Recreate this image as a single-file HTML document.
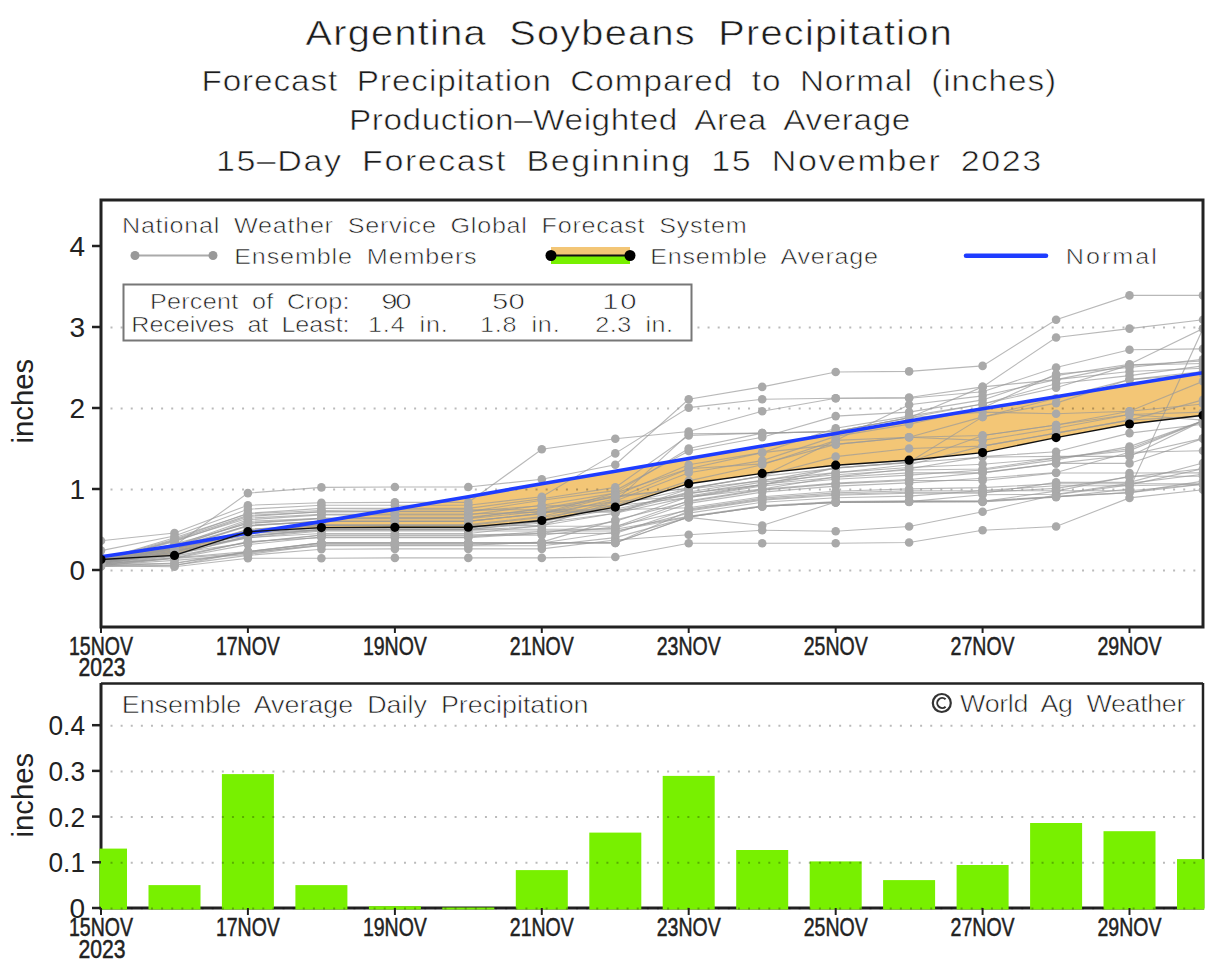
<!DOCTYPE html><html><head><meta charset="utf-8"><style>html,body{margin:0;padding:0;background:#fff;}svg{display:block;}text{font-family:"Liberation Sans",sans-serif;}</style></head><body>
<svg width="1226" height="967" viewBox="0 0 1226 967">
<rect width="1226" height="967" fill="#fff"/>
<text transform="scale(1.12,1)" x="272.77" y="45" font-size="35.5" fill="#1c1c1c" stroke="#fff" stroke-width="0.6" word-spacing="8.9" textLength="577.14" lengthAdjust="spacing">Argentina Soybeans Precipitation</text>
<text transform="scale(1.12,1)" x="179.82" y="91" font-size="29.8" fill="#1c1c1c" stroke="#fff" stroke-width="0.6" word-spacing="7.5" textLength="763.12" lengthAdjust="spacing">Forecast Precipitation Compared to Normal (inches)</text>
<text transform="scale(1.12,1)" x="311.61" y="130" font-size="29.8" fill="#1c1c1c" stroke="#fff" stroke-width="0.6" word-spacing="7.5" textLength="501.16" lengthAdjust="spacing">Production–Weighted Area Average</text>
<text transform="scale(1.12,1)" x="192.77" y="171.5" font-size="30.4" fill="#1c1c1c" stroke="#fff" stroke-width="0.6" word-spacing="7.6" textLength="736.87" lengthAdjust="spacing">15–Day Forecast Beginning 15 November 2023</text>
<polygon points="101.0,556.8 174.5,545.7 247.9,533.1 321.4,521.6 394.9,509.2 468.3,496.7 541.8,483.7 615.3,471.2 688.7,458.6 762.2,446.1 835.7,433.5 909.1,421.0 982.6,408.8 1056.1,396.7 1129.5,384.5 1203.0,372.8 1203.0,415.3 1129.5,424.0 1056.1,437.6 982.6,452.6 909.1,460.2 835.7,465.2 762.2,473.4 688.7,483.7 615.3,507.1 541.8,520.5 468.3,527.2 394.9,527.3 321.4,527.6 247.9,531.7 174.5,555.4 101.0,559.5" fill="#F3C676"/>
<line x1="110.5" y1="570.5" x2="1197" y2="570.5" stroke="#000" stroke-opacity="0.27" stroke-width="2" stroke-dasharray="2 8.12"/>
<line x1="110.5" y1="489.5" x2="1197" y2="489.5" stroke="#000" stroke-opacity="0.27" stroke-width="2" stroke-dasharray="2 8.12"/>
<line x1="110.5" y1="408.5" x2="1197" y2="408.5" stroke="#000" stroke-opacity="0.27" stroke-width="2" stroke-dasharray="2 8.12"/>
<line x1="110.5" y1="327.5" x2="1197" y2="327.5" stroke="#000" stroke-opacity="0.27" stroke-width="2" stroke-dasharray="2 8.12"/>
<defs><clipPath id="pc"><rect x="101" y="200" width="1102" height="427"/></clipPath></defs>
<g clip-path="url(#pc)">
<g fill="none" stroke="#9a9a9a" stroke-width="1.1" stroke-opacity="0.7">
<polyline points="101.0,557.9 174.5,545.7 247.9,493.1 321.4,487.4 394.9,487.0 468.3,487.0 541.8,479.3 615.3,464.7 688.7,399.3 762.2,386.9 835.7,372.0 909.1,371.4 982.6,365.9 1056.1,319.7 1129.5,295.4 1203.0,295.4"/>
<polyline points="101.0,540.8 174.5,533.0 247.9,505.2 321.4,502.8 394.9,502.4 468.3,502.4 541.8,449.3 615.3,438.8 688.7,431.5 762.2,411.2 835.7,398.3 909.1,397.5 982.6,386.9 1056.1,337.5 1129.5,328.6 1203.0,319.7"/>
<polyline points="101.0,550.6 174.5,536.0 247.9,509.2 321.4,505.2 394.9,505.2 468.3,505.2 541.8,496.7 615.3,453.4 688.7,407.6 762.2,399.3 835.7,398.3 909.1,398.3 982.6,391.8 1056.1,367.5 1129.5,349.7 1203.0,348.9"/>
<polyline points="101.0,559.5 174.5,539.2 247.9,513.3 321.4,508.4 394.9,508.4 468.3,508.4 541.8,498.7 615.3,487.4 688.7,435.5 762.2,433.1 835.7,431.5 909.1,417.7 982.6,404.0 1056.1,387.8 1129.5,365.1 1203.0,361.0"/>
<polyline points="101.0,560.3 174.5,541.6 247.9,516.5 321.4,511.7 394.9,511.7 468.3,511.7 541.8,500.3 615.3,490.6 688.7,450.9 762.2,437.2 835.7,416.1 909.1,412.1 982.6,399.9 1056.1,375.6 1129.5,364.3 1203.0,328.6"/>
<polyline points="101.0,561.1 174.5,545.7 247.9,519.8 321.4,514.9 394.9,514.9 468.3,514.9 541.8,505.2 615.3,493.1 688.7,468.8 762.2,463.9 835.7,444.4 909.1,437.2 982.6,416.9 1056.1,403.1 1129.5,379.6 1203.0,374.0"/>
<polyline points="101.0,561.9 174.5,547.3 247.9,521.4 321.4,518.2 394.9,517.4 468.3,517.4 541.8,509.2 615.3,497.1 688.7,488.2 762.2,476.0 835.7,440.4 909.1,404.8 982.6,395.9 1056.1,379.6 1129.5,371.5 1203.0,368.3"/>
<polyline points="101.0,562.7 174.5,548.9 247.9,525.5 321.4,521.4 394.9,521.4 468.3,521.4 541.8,513.3 615.3,501.1 688.7,433.9 762.2,433.1 835.7,431.5 909.1,417.7 982.6,412.1 1056.1,413.7 1129.5,411.2 1203.0,381.3"/>
<polyline points="101.0,562.7 174.5,552.2 247.9,529.5 321.4,525.5 394.9,525.5 468.3,525.5 541.8,517.4 615.3,505.2 688.7,489.0 762.2,480.9 835.7,467.9 909.1,462.3 982.6,435.5 1056.1,425.0 1129.5,414.5 1203.0,420.1"/>
<polyline points="101.0,563.5 174.5,553.8 247.9,533.5 321.4,527.9 394.9,527.9 468.3,527.9 541.8,521.4 615.3,509.2 688.7,493.1 762.2,484.9 835.7,472.8 909.1,464.7 982.6,446.1 1056.1,433.1 1129.5,420.1 1203.0,399.9"/>
<polyline points="101.0,563.5 174.5,555.4 247.9,536.0 321.4,529.5 394.9,529.5 468.3,529.5 541.8,523.0 615.3,513.3 688.7,497.1 762.2,489.0 835.7,476.9 909.1,468.8 982.6,456.6 1056.1,451.7 1129.5,433.1 1203.0,424.2"/>
<polyline points="101.0,566.0 174.5,566.8 247.9,558.2 321.4,558.2 394.9,557.9 468.3,557.9 541.8,557.9 615.3,557.0 688.7,543.3 762.2,543.3 835.7,543.3 909.1,542.5 982.6,530.3 1056.1,526.5 1129.5,497.9 1203.0,489.8"/>
<polyline points="101.0,565.1 174.5,565.1 247.9,555.4 321.4,549.3 394.9,548.9 468.3,548.9 541.8,548.9 615.3,540.0 688.7,534.8 762.2,530.3 835.7,531.2 909.1,526.5 982.6,511.7 1056.1,494.7 1129.5,484.9 1203.0,468.8"/>
<polyline points="101.0,564.3 174.5,563.5 247.9,552.2 321.4,545.7 394.9,545.7 468.3,545.7 541.8,545.7 615.3,537.6 688.7,517.4 762.2,525.5 835.7,502.0 909.1,502.0 982.6,502.0 1056.1,497.1 1129.5,489.0 1203.0,328.6"/>
<polyline points="101.0,561.9 174.5,549.8 247.9,529.5 321.4,524.6 394.9,524.6 468.3,524.6 541.8,516.5 615.3,498.7 688.7,468.8 762.2,452.6 835.7,444.4 909.1,437.2 982.6,435.5 1056.1,425.0 1129.5,411.2 1203.0,404.0"/>
<polyline points="101.0,562.7 174.5,552.2 247.9,533.5 321.4,529.5 394.9,529.5 468.3,529.5 541.8,521.4 615.3,505.2 688.7,480.9 762.2,464.7 835.7,440.4 909.1,437.2 982.6,440.4 1056.1,428.2 1129.5,414.5 1203.0,412.1"/>
<polyline points="101.0,563.5 174.5,553.8 247.9,537.6 321.4,533.5 394.9,533.5 468.3,533.5 541.8,525.5 615.3,513.3 688.7,489.0 762.2,476.0 835.7,456.6 909.1,448.5 982.6,446.1 1056.1,433.1 1129.5,420.1 1203.0,416.1"/>
<polyline points="101.0,561.1 174.5,547.3 247.9,525.5 321.4,521.4 394.9,521.4 468.3,521.4 541.8,513.3 615.3,493.1 688.7,448.5 762.2,433.1 835.7,431.5 909.1,417.7 982.6,386.9 1056.1,379.6 1129.5,365.1 1203.0,363.5"/>
<polyline points="101.0,564.3 174.5,557.9 247.9,541.6 321.4,537.6 394.9,537.6 468.3,537.6 541.8,533.5 615.3,521.4 688.7,497.1 762.2,484.9 835.7,467.9 909.1,462.3 982.6,416.9 1056.1,398.3 1129.5,379.6 1203.0,371.5"/>
<polyline points="101.0,560.3 174.5,545.7 247.9,523.0 321.4,518.2 394.9,518.2 468.3,518.2 541.8,508.4 615.3,495.5 688.7,464.7 762.2,452.6 835.7,428.2 909.1,416.1 982.6,404.0 1056.1,383.7 1129.5,375.6 1203.0,365.9"/>
<polyline points="101.0,562.7 174.5,550.6 247.9,531.1 321.4,527.9 394.9,527.9 468.3,527.9 541.8,519.8 615.3,501.1 688.7,472.8 762.2,460.6 835.7,436.4 909.1,424.2 982.6,408.0 1056.1,374.0 1129.5,367.5 1203.0,359.4"/>
<polyline points="101.0,566.5 174.5,565.5 247.9,551.6 321.4,542.9 394.9,542.9 468.3,542.9 541.8,542.9 615.3,542.9 688.7,511.0 762.2,500.1 835.7,495.2 909.1,493.3 982.6,493.3 1056.1,482.4 1129.5,482.4 1203.0,463.0"/>
<polyline points="101.0,566.1 174.5,563.0 247.9,551.8 321.4,543.0 394.9,543.0 468.3,543.0 541.8,543.0 615.3,532.0 688.7,513.1 762.2,502.3 835.7,497.7 909.1,496.1 982.6,490.5 1056.1,485.8 1129.5,485.8 1203.0,484.3"/>
<polyline points="101.0,565.7 174.5,558.2 247.9,544.6 321.4,537.0 394.9,537.0 468.3,537.0 541.8,531.5 615.3,528.3 688.7,503.4 762.2,492.1 835.7,486.1 909.1,482.9 982.6,478.3 1056.1,472.5 1129.5,452.3 1203.0,450.7"/>
<polyline points="101.0,565.2 174.5,560.4 247.9,554.4 321.4,545.3 394.9,545.3 468.3,545.3 541.8,542.1 615.3,520.1 688.7,501.6 762.2,490.1 835.7,483.9 909.1,480.5 982.6,480.5 1056.1,473.0 1129.5,473.0 1203.0,472.9"/>
<polyline points="101.0,564.8 174.5,558.4 247.9,553.2 321.4,544.2 394.9,544.2 468.3,544.2 541.8,542.9 615.3,542.9 688.7,517.0 762.2,506.5 835.7,502.4 909.1,501.6 982.6,494.8 1056.1,494.3 1129.5,483.4 1203.0,474.2"/>
<polyline points="101.0,564.4 174.5,556.1 247.9,542.4 321.4,535.0 394.9,535.0 468.3,535.0 541.8,533.4 615.3,533.4 688.7,509.1 762.2,498.1 835.7,492.9 909.1,490.7 982.6,490.7 1056.1,490.7 1129.5,490.7 1203.0,484.3"/>
<polyline points="101.0,564.0 174.5,557.8 247.9,551.6 321.4,542.9 394.9,542.9 468.3,542.9 541.8,542.9 615.3,542.7 688.7,517.0 762.2,506.5 835.7,502.4 909.1,501.6 982.6,501.5 1056.1,491.1 1129.5,476.2 1203.0,476.2"/>
<polyline points="101.0,563.5 174.5,553.3 247.9,542.7 321.4,535.3 394.9,535.3 468.3,535.3 541.8,535.3 615.3,526.7 688.7,500.8 762.2,489.4 835.7,483.1 909.1,479.5 982.6,472.6 1056.1,463.4 1129.5,455.0 1203.0,438.4"/>
<polyline points="101.0,563.1 174.5,550.6 247.9,537.8 321.4,531.0 394.9,531.0 468.3,531.0 541.8,531.0 615.3,531.0 688.7,517.0 762.2,506.5 835.7,502.4 909.1,501.6 982.6,501.5 1056.1,496.6 1129.5,492.6 1203.0,481.1"/>
<polyline points="101.0,562.7 174.5,547.6 247.9,535.7 321.4,529.3 394.9,529.3 468.3,529.3 541.8,529.3 615.3,529.3 688.7,516.4 762.2,505.8 835.7,501.6 909.1,500.7 982.6,500.7 1056.1,496.6 1129.5,492.6 1203.0,484.3"/>
<polyline points="101.0,562.2 174.5,551.9 247.9,536.6 321.4,530.1 394.9,530.1 468.3,530.1 541.8,526.3 615.3,526.3 688.7,510.1 762.2,499.2 835.7,494.2 909.1,492.2 982.6,492.2 1056.1,488.4 1129.5,476.9 1203.0,468.8"/>
<polyline points="101.0,561.8 174.5,548.5 247.9,531.4 321.4,525.6 394.9,525.6 468.3,525.6 541.8,525.6 615.3,501.6 688.7,496.0 762.2,484.2 835.7,477.3 909.1,472.9 982.6,472.9 1056.1,463.4 1129.5,463.4 1203.0,438.6"/>
<polyline points="101.0,561.4 174.5,548.6 247.9,526.2 321.4,521.2 394.9,521.2 468.3,521.2 541.8,513.9 615.3,496.0 688.7,488.5 762.2,476.4 835.7,468.3 909.1,462.7 982.6,457.1 1056.1,456.4 1129.5,456.4 1203.0,420.8"/>
<polyline points="101.0,561.0 174.5,540.8 247.9,518.2 321.4,514.2 394.9,514.0 468.3,514.0 541.8,512.1 615.3,512.1 688.7,493.9 762.2,482.1 835.7,474.7 909.1,470.0 982.6,469.0 1056.1,458.0 1129.5,450.6 1203.0,420.8"/>
<polyline points="101.0,560.5 174.5,540.1 247.9,515.4 321.4,511.9 394.9,511.4 468.3,511.4 541.8,505.7 615.3,505.7 688.7,497.7 762.2,486.0 835.7,479.3 909.1,475.1 982.6,470.0 1056.1,459.9 1129.5,446.6 1203.0,420.8"/>
<polyline points="101.0,560.1 174.5,544.0 247.9,523.5 321.4,518.8 394.9,518.8 468.3,518.8 541.8,511.1 615.3,511.1 688.7,492.0 762.2,480.1 835.7,472.6 909.1,467.5 982.6,464.3 1056.1,458.1 1129.5,448.8 1203.0,420.8"/>
<polyline points="101.0,559.7 174.5,537.8 247.9,513.8 321.4,510.5 394.9,509.7 468.3,509.7 541.8,509.7 615.3,509.7 688.7,507.7 762.2,496.7 835.7,491.3 909.1,488.9 982.6,487.6 1056.1,483.8 1129.5,483.8 1203.0,483.8"/>
</g><g fill="#a9a9a9">
<circle cx="101.0" cy="557.9" r="4.3"/>
<circle cx="174.5" cy="545.7" r="4.3"/>
<circle cx="247.9" cy="493.1" r="4.3"/>
<circle cx="321.4" cy="487.4" r="4.3"/>
<circle cx="394.9" cy="487.0" r="4.3"/>
<circle cx="468.3" cy="487.0" r="4.3"/>
<circle cx="541.8" cy="479.3" r="4.3"/>
<circle cx="615.3" cy="464.7" r="4.3"/>
<circle cx="688.7" cy="399.3" r="4.3"/>
<circle cx="762.2" cy="386.9" r="4.3"/>
<circle cx="835.7" cy="372.0" r="4.3"/>
<circle cx="909.1" cy="371.4" r="4.3"/>
<circle cx="982.6" cy="365.9" r="4.3"/>
<circle cx="1056.1" cy="319.7" r="4.3"/>
<circle cx="1129.5" cy="295.4" r="4.3"/>
<circle cx="1203.0" cy="295.4" r="4.3"/>
<circle cx="101.0" cy="540.8" r="4.3"/>
<circle cx="174.5" cy="533.0" r="4.3"/>
<circle cx="247.9" cy="505.2" r="4.3"/>
<circle cx="321.4" cy="502.8" r="4.3"/>
<circle cx="394.9" cy="502.4" r="4.3"/>
<circle cx="468.3" cy="502.4" r="4.3"/>
<circle cx="541.8" cy="449.3" r="4.3"/>
<circle cx="615.3" cy="438.8" r="4.3"/>
<circle cx="688.7" cy="431.5" r="4.3"/>
<circle cx="762.2" cy="411.2" r="4.3"/>
<circle cx="835.7" cy="398.3" r="4.3"/>
<circle cx="909.1" cy="397.5" r="4.3"/>
<circle cx="982.6" cy="386.9" r="4.3"/>
<circle cx="1056.1" cy="337.5" r="4.3"/>
<circle cx="1129.5" cy="328.6" r="4.3"/>
<circle cx="1203.0" cy="319.7" r="4.3"/>
<circle cx="101.0" cy="550.6" r="4.3"/>
<circle cx="174.5" cy="536.0" r="4.3"/>
<circle cx="247.9" cy="509.2" r="4.3"/>
<circle cx="321.4" cy="505.2" r="4.3"/>
<circle cx="394.9" cy="505.2" r="4.3"/>
<circle cx="468.3" cy="505.2" r="4.3"/>
<circle cx="541.8" cy="496.7" r="4.3"/>
<circle cx="615.3" cy="453.4" r="4.3"/>
<circle cx="688.7" cy="407.6" r="4.3"/>
<circle cx="762.2" cy="399.3" r="4.3"/>
<circle cx="835.7" cy="398.3" r="4.3"/>
<circle cx="909.1" cy="398.3" r="4.3"/>
<circle cx="982.6" cy="391.8" r="4.3"/>
<circle cx="1056.1" cy="367.5" r="4.3"/>
<circle cx="1129.5" cy="349.7" r="4.3"/>
<circle cx="1203.0" cy="348.9" r="4.3"/>
<circle cx="101.0" cy="559.5" r="4.3"/>
<circle cx="174.5" cy="539.2" r="4.3"/>
<circle cx="247.9" cy="513.3" r="4.3"/>
<circle cx="321.4" cy="508.4" r="4.3"/>
<circle cx="394.9" cy="508.4" r="4.3"/>
<circle cx="468.3" cy="508.4" r="4.3"/>
<circle cx="541.8" cy="498.7" r="4.3"/>
<circle cx="615.3" cy="487.4" r="4.3"/>
<circle cx="688.7" cy="435.5" r="4.3"/>
<circle cx="762.2" cy="433.1" r="4.3"/>
<circle cx="835.7" cy="431.5" r="4.3"/>
<circle cx="909.1" cy="417.7" r="4.3"/>
<circle cx="982.6" cy="404.0" r="4.3"/>
<circle cx="1056.1" cy="387.8" r="4.3"/>
<circle cx="1129.5" cy="365.1" r="4.3"/>
<circle cx="1203.0" cy="361.0" r="4.3"/>
<circle cx="101.0" cy="560.3" r="4.3"/>
<circle cx="174.5" cy="541.6" r="4.3"/>
<circle cx="247.9" cy="516.5" r="4.3"/>
<circle cx="321.4" cy="511.7" r="4.3"/>
<circle cx="394.9" cy="511.7" r="4.3"/>
<circle cx="468.3" cy="511.7" r="4.3"/>
<circle cx="541.8" cy="500.3" r="4.3"/>
<circle cx="615.3" cy="490.6" r="4.3"/>
<circle cx="688.7" cy="450.9" r="4.3"/>
<circle cx="762.2" cy="437.2" r="4.3"/>
<circle cx="835.7" cy="416.1" r="4.3"/>
<circle cx="909.1" cy="412.1" r="4.3"/>
<circle cx="982.6" cy="399.9" r="4.3"/>
<circle cx="1056.1" cy="375.6" r="4.3"/>
<circle cx="1129.5" cy="364.3" r="4.3"/>
<circle cx="1203.0" cy="328.6" r="4.3"/>
<circle cx="101.0" cy="561.1" r="4.3"/>
<circle cx="174.5" cy="545.7" r="4.3"/>
<circle cx="247.9" cy="519.8" r="4.3"/>
<circle cx="321.4" cy="514.9" r="4.3"/>
<circle cx="394.9" cy="514.9" r="4.3"/>
<circle cx="468.3" cy="514.9" r="4.3"/>
<circle cx="541.8" cy="505.2" r="4.3"/>
<circle cx="615.3" cy="493.1" r="4.3"/>
<circle cx="688.7" cy="468.8" r="4.3"/>
<circle cx="762.2" cy="463.9" r="4.3"/>
<circle cx="835.7" cy="444.4" r="4.3"/>
<circle cx="909.1" cy="437.2" r="4.3"/>
<circle cx="982.6" cy="416.9" r="4.3"/>
<circle cx="1056.1" cy="403.1" r="4.3"/>
<circle cx="1129.5" cy="379.6" r="4.3"/>
<circle cx="1203.0" cy="374.0" r="4.3"/>
<circle cx="101.0" cy="561.9" r="4.3"/>
<circle cx="174.5" cy="547.3" r="4.3"/>
<circle cx="247.9" cy="521.4" r="4.3"/>
<circle cx="321.4" cy="518.2" r="4.3"/>
<circle cx="394.9" cy="517.4" r="4.3"/>
<circle cx="468.3" cy="517.4" r="4.3"/>
<circle cx="541.8" cy="509.2" r="4.3"/>
<circle cx="615.3" cy="497.1" r="4.3"/>
<circle cx="688.7" cy="488.2" r="4.3"/>
<circle cx="762.2" cy="476.0" r="4.3"/>
<circle cx="835.7" cy="440.4" r="4.3"/>
<circle cx="909.1" cy="404.8" r="4.3"/>
<circle cx="982.6" cy="395.9" r="4.3"/>
<circle cx="1056.1" cy="379.6" r="4.3"/>
<circle cx="1129.5" cy="371.5" r="4.3"/>
<circle cx="1203.0" cy="368.3" r="4.3"/>
<circle cx="101.0" cy="562.7" r="4.3"/>
<circle cx="174.5" cy="548.9" r="4.3"/>
<circle cx="247.9" cy="525.5" r="4.3"/>
<circle cx="321.4" cy="521.4" r="4.3"/>
<circle cx="394.9" cy="521.4" r="4.3"/>
<circle cx="468.3" cy="521.4" r="4.3"/>
<circle cx="541.8" cy="513.3" r="4.3"/>
<circle cx="615.3" cy="501.1" r="4.3"/>
<circle cx="688.7" cy="433.9" r="4.3"/>
<circle cx="762.2" cy="433.1" r="4.3"/>
<circle cx="835.7" cy="431.5" r="4.3"/>
<circle cx="909.1" cy="417.7" r="4.3"/>
<circle cx="982.6" cy="412.1" r="4.3"/>
<circle cx="1056.1" cy="413.7" r="4.3"/>
<circle cx="1129.5" cy="411.2" r="4.3"/>
<circle cx="1203.0" cy="381.3" r="4.3"/>
<circle cx="101.0" cy="562.7" r="4.3"/>
<circle cx="174.5" cy="552.2" r="4.3"/>
<circle cx="247.9" cy="529.5" r="4.3"/>
<circle cx="321.4" cy="525.5" r="4.3"/>
<circle cx="394.9" cy="525.5" r="4.3"/>
<circle cx="468.3" cy="525.5" r="4.3"/>
<circle cx="541.8" cy="517.4" r="4.3"/>
<circle cx="615.3" cy="505.2" r="4.3"/>
<circle cx="688.7" cy="489.0" r="4.3"/>
<circle cx="762.2" cy="480.9" r="4.3"/>
<circle cx="835.7" cy="467.9" r="4.3"/>
<circle cx="909.1" cy="462.3" r="4.3"/>
<circle cx="982.6" cy="435.5" r="4.3"/>
<circle cx="1056.1" cy="425.0" r="4.3"/>
<circle cx="1129.5" cy="414.5" r="4.3"/>
<circle cx="1203.0" cy="420.1" r="4.3"/>
<circle cx="101.0" cy="563.5" r="4.3"/>
<circle cx="174.5" cy="553.8" r="4.3"/>
<circle cx="247.9" cy="533.5" r="4.3"/>
<circle cx="321.4" cy="527.9" r="4.3"/>
<circle cx="394.9" cy="527.9" r="4.3"/>
<circle cx="468.3" cy="527.9" r="4.3"/>
<circle cx="541.8" cy="521.4" r="4.3"/>
<circle cx="615.3" cy="509.2" r="4.3"/>
<circle cx="688.7" cy="493.1" r="4.3"/>
<circle cx="762.2" cy="484.9" r="4.3"/>
<circle cx="835.7" cy="472.8" r="4.3"/>
<circle cx="909.1" cy="464.7" r="4.3"/>
<circle cx="982.6" cy="446.1" r="4.3"/>
<circle cx="1056.1" cy="433.1" r="4.3"/>
<circle cx="1129.5" cy="420.1" r="4.3"/>
<circle cx="1203.0" cy="399.9" r="4.3"/>
<circle cx="101.0" cy="563.5" r="4.3"/>
<circle cx="174.5" cy="555.4" r="4.3"/>
<circle cx="247.9" cy="536.0" r="4.3"/>
<circle cx="321.4" cy="529.5" r="4.3"/>
<circle cx="394.9" cy="529.5" r="4.3"/>
<circle cx="468.3" cy="529.5" r="4.3"/>
<circle cx="541.8" cy="523.0" r="4.3"/>
<circle cx="615.3" cy="513.3" r="4.3"/>
<circle cx="688.7" cy="497.1" r="4.3"/>
<circle cx="762.2" cy="489.0" r="4.3"/>
<circle cx="835.7" cy="476.9" r="4.3"/>
<circle cx="909.1" cy="468.8" r="4.3"/>
<circle cx="982.6" cy="456.6" r="4.3"/>
<circle cx="1056.1" cy="451.7" r="4.3"/>
<circle cx="1129.5" cy="433.1" r="4.3"/>
<circle cx="1203.0" cy="424.2" r="4.3"/>
<circle cx="101.0" cy="566.0" r="4.3"/>
<circle cx="174.5" cy="566.8" r="4.3"/>
<circle cx="247.9" cy="558.2" r="4.3"/>
<circle cx="321.4" cy="558.2" r="4.3"/>
<circle cx="394.9" cy="557.9" r="4.3"/>
<circle cx="468.3" cy="557.9" r="4.3"/>
<circle cx="541.8" cy="557.9" r="4.3"/>
<circle cx="615.3" cy="557.0" r="4.3"/>
<circle cx="688.7" cy="543.3" r="4.3"/>
<circle cx="762.2" cy="543.3" r="4.3"/>
<circle cx="835.7" cy="543.3" r="4.3"/>
<circle cx="909.1" cy="542.5" r="4.3"/>
<circle cx="982.6" cy="530.3" r="4.3"/>
<circle cx="1056.1" cy="526.5" r="4.3"/>
<circle cx="1129.5" cy="497.9" r="4.3"/>
<circle cx="1203.0" cy="489.8" r="4.3"/>
<circle cx="101.0" cy="565.1" r="4.3"/>
<circle cx="174.5" cy="565.1" r="4.3"/>
<circle cx="247.9" cy="555.4" r="4.3"/>
<circle cx="321.4" cy="549.3" r="4.3"/>
<circle cx="394.9" cy="548.9" r="4.3"/>
<circle cx="468.3" cy="548.9" r="4.3"/>
<circle cx="541.8" cy="548.9" r="4.3"/>
<circle cx="615.3" cy="540.0" r="4.3"/>
<circle cx="688.7" cy="534.8" r="4.3"/>
<circle cx="762.2" cy="530.3" r="4.3"/>
<circle cx="835.7" cy="531.2" r="4.3"/>
<circle cx="909.1" cy="526.5" r="4.3"/>
<circle cx="982.6" cy="511.7" r="4.3"/>
<circle cx="1056.1" cy="494.7" r="4.3"/>
<circle cx="1129.5" cy="484.9" r="4.3"/>
<circle cx="1203.0" cy="468.8" r="4.3"/>
<circle cx="101.0" cy="564.3" r="4.3"/>
<circle cx="174.5" cy="563.5" r="4.3"/>
<circle cx="247.9" cy="552.2" r="4.3"/>
<circle cx="321.4" cy="545.7" r="4.3"/>
<circle cx="394.9" cy="545.7" r="4.3"/>
<circle cx="468.3" cy="545.7" r="4.3"/>
<circle cx="541.8" cy="545.7" r="4.3"/>
<circle cx="615.3" cy="537.6" r="4.3"/>
<circle cx="688.7" cy="517.4" r="4.3"/>
<circle cx="762.2" cy="525.5" r="4.3"/>
<circle cx="835.7" cy="502.0" r="4.3"/>
<circle cx="909.1" cy="502.0" r="4.3"/>
<circle cx="982.6" cy="502.0" r="4.3"/>
<circle cx="1056.1" cy="497.1" r="4.3"/>
<circle cx="1129.5" cy="489.0" r="4.3"/>
<circle cx="1203.0" cy="328.6" r="4.3"/>
<circle cx="101.0" cy="561.9" r="4.3"/>
<circle cx="174.5" cy="549.8" r="4.3"/>
<circle cx="247.9" cy="529.5" r="4.3"/>
<circle cx="321.4" cy="524.6" r="4.3"/>
<circle cx="394.9" cy="524.6" r="4.3"/>
<circle cx="468.3" cy="524.6" r="4.3"/>
<circle cx="541.8" cy="516.5" r="4.3"/>
<circle cx="615.3" cy="498.7" r="4.3"/>
<circle cx="688.7" cy="468.8" r="4.3"/>
<circle cx="762.2" cy="452.6" r="4.3"/>
<circle cx="835.7" cy="444.4" r="4.3"/>
<circle cx="909.1" cy="437.2" r="4.3"/>
<circle cx="982.6" cy="435.5" r="4.3"/>
<circle cx="1056.1" cy="425.0" r="4.3"/>
<circle cx="1129.5" cy="411.2" r="4.3"/>
<circle cx="1203.0" cy="404.0" r="4.3"/>
<circle cx="101.0" cy="562.7" r="4.3"/>
<circle cx="174.5" cy="552.2" r="4.3"/>
<circle cx="247.9" cy="533.5" r="4.3"/>
<circle cx="321.4" cy="529.5" r="4.3"/>
<circle cx="394.9" cy="529.5" r="4.3"/>
<circle cx="468.3" cy="529.5" r="4.3"/>
<circle cx="541.8" cy="521.4" r="4.3"/>
<circle cx="615.3" cy="505.2" r="4.3"/>
<circle cx="688.7" cy="480.9" r="4.3"/>
<circle cx="762.2" cy="464.7" r="4.3"/>
<circle cx="835.7" cy="440.4" r="4.3"/>
<circle cx="909.1" cy="437.2" r="4.3"/>
<circle cx="982.6" cy="440.4" r="4.3"/>
<circle cx="1056.1" cy="428.2" r="4.3"/>
<circle cx="1129.5" cy="414.5" r="4.3"/>
<circle cx="1203.0" cy="412.1" r="4.3"/>
<circle cx="101.0" cy="563.5" r="4.3"/>
<circle cx="174.5" cy="553.8" r="4.3"/>
<circle cx="247.9" cy="537.6" r="4.3"/>
<circle cx="321.4" cy="533.5" r="4.3"/>
<circle cx="394.9" cy="533.5" r="4.3"/>
<circle cx="468.3" cy="533.5" r="4.3"/>
<circle cx="541.8" cy="525.5" r="4.3"/>
<circle cx="615.3" cy="513.3" r="4.3"/>
<circle cx="688.7" cy="489.0" r="4.3"/>
<circle cx="762.2" cy="476.0" r="4.3"/>
<circle cx="835.7" cy="456.6" r="4.3"/>
<circle cx="909.1" cy="448.5" r="4.3"/>
<circle cx="982.6" cy="446.1" r="4.3"/>
<circle cx="1056.1" cy="433.1" r="4.3"/>
<circle cx="1129.5" cy="420.1" r="4.3"/>
<circle cx="1203.0" cy="416.1" r="4.3"/>
<circle cx="101.0" cy="561.1" r="4.3"/>
<circle cx="174.5" cy="547.3" r="4.3"/>
<circle cx="247.9" cy="525.5" r="4.3"/>
<circle cx="321.4" cy="521.4" r="4.3"/>
<circle cx="394.9" cy="521.4" r="4.3"/>
<circle cx="468.3" cy="521.4" r="4.3"/>
<circle cx="541.8" cy="513.3" r="4.3"/>
<circle cx="615.3" cy="493.1" r="4.3"/>
<circle cx="688.7" cy="448.5" r="4.3"/>
<circle cx="762.2" cy="433.1" r="4.3"/>
<circle cx="835.7" cy="431.5" r="4.3"/>
<circle cx="909.1" cy="417.7" r="4.3"/>
<circle cx="982.6" cy="386.9" r="4.3"/>
<circle cx="1056.1" cy="379.6" r="4.3"/>
<circle cx="1129.5" cy="365.1" r="4.3"/>
<circle cx="1203.0" cy="363.5" r="4.3"/>
<circle cx="101.0" cy="564.3" r="4.3"/>
<circle cx="174.5" cy="557.9" r="4.3"/>
<circle cx="247.9" cy="541.6" r="4.3"/>
<circle cx="321.4" cy="537.6" r="4.3"/>
<circle cx="394.9" cy="537.6" r="4.3"/>
<circle cx="468.3" cy="537.6" r="4.3"/>
<circle cx="541.8" cy="533.5" r="4.3"/>
<circle cx="615.3" cy="521.4" r="4.3"/>
<circle cx="688.7" cy="497.1" r="4.3"/>
<circle cx="762.2" cy="484.9" r="4.3"/>
<circle cx="835.7" cy="467.9" r="4.3"/>
<circle cx="909.1" cy="462.3" r="4.3"/>
<circle cx="982.6" cy="416.9" r="4.3"/>
<circle cx="1056.1" cy="398.3" r="4.3"/>
<circle cx="1129.5" cy="379.6" r="4.3"/>
<circle cx="1203.0" cy="371.5" r="4.3"/>
<circle cx="101.0" cy="560.3" r="4.3"/>
<circle cx="174.5" cy="545.7" r="4.3"/>
<circle cx="247.9" cy="523.0" r="4.3"/>
<circle cx="321.4" cy="518.2" r="4.3"/>
<circle cx="394.9" cy="518.2" r="4.3"/>
<circle cx="468.3" cy="518.2" r="4.3"/>
<circle cx="541.8" cy="508.4" r="4.3"/>
<circle cx="615.3" cy="495.5" r="4.3"/>
<circle cx="688.7" cy="464.7" r="4.3"/>
<circle cx="762.2" cy="452.6" r="4.3"/>
<circle cx="835.7" cy="428.2" r="4.3"/>
<circle cx="909.1" cy="416.1" r="4.3"/>
<circle cx="982.6" cy="404.0" r="4.3"/>
<circle cx="1056.1" cy="383.7" r="4.3"/>
<circle cx="1129.5" cy="375.6" r="4.3"/>
<circle cx="1203.0" cy="365.9" r="4.3"/>
<circle cx="101.0" cy="562.7" r="4.3"/>
<circle cx="174.5" cy="550.6" r="4.3"/>
<circle cx="247.9" cy="531.1" r="4.3"/>
<circle cx="321.4" cy="527.9" r="4.3"/>
<circle cx="394.9" cy="527.9" r="4.3"/>
<circle cx="468.3" cy="527.9" r="4.3"/>
<circle cx="541.8" cy="519.8" r="4.3"/>
<circle cx="615.3" cy="501.1" r="4.3"/>
<circle cx="688.7" cy="472.8" r="4.3"/>
<circle cx="762.2" cy="460.6" r="4.3"/>
<circle cx="835.7" cy="436.4" r="4.3"/>
<circle cx="909.1" cy="424.2" r="4.3"/>
<circle cx="982.6" cy="408.0" r="4.3"/>
<circle cx="1056.1" cy="374.0" r="4.3"/>
<circle cx="1129.5" cy="367.5" r="4.3"/>
<circle cx="1203.0" cy="359.4" r="4.3"/>
<circle cx="101.0" cy="566.5" r="4.3"/>
<circle cx="174.5" cy="565.5" r="4.3"/>
<circle cx="247.9" cy="551.6" r="4.3"/>
<circle cx="321.4" cy="542.9" r="4.3"/>
<circle cx="394.9" cy="542.9" r="4.3"/>
<circle cx="468.3" cy="542.9" r="4.3"/>
<circle cx="541.8" cy="542.9" r="4.3"/>
<circle cx="615.3" cy="542.9" r="4.3"/>
<circle cx="688.7" cy="511.0" r="4.3"/>
<circle cx="762.2" cy="500.1" r="4.3"/>
<circle cx="835.7" cy="495.2" r="4.3"/>
<circle cx="909.1" cy="493.3" r="4.3"/>
<circle cx="982.6" cy="493.3" r="4.3"/>
<circle cx="1056.1" cy="482.4" r="4.3"/>
<circle cx="1129.5" cy="482.4" r="4.3"/>
<circle cx="1203.0" cy="463.0" r="4.3"/>
<circle cx="101.0" cy="566.1" r="4.3"/>
<circle cx="174.5" cy="563.0" r="4.3"/>
<circle cx="247.9" cy="551.8" r="4.3"/>
<circle cx="321.4" cy="543.0" r="4.3"/>
<circle cx="394.9" cy="543.0" r="4.3"/>
<circle cx="468.3" cy="543.0" r="4.3"/>
<circle cx="541.8" cy="543.0" r="4.3"/>
<circle cx="615.3" cy="532.0" r="4.3"/>
<circle cx="688.7" cy="513.1" r="4.3"/>
<circle cx="762.2" cy="502.3" r="4.3"/>
<circle cx="835.7" cy="497.7" r="4.3"/>
<circle cx="909.1" cy="496.1" r="4.3"/>
<circle cx="982.6" cy="490.5" r="4.3"/>
<circle cx="1056.1" cy="485.8" r="4.3"/>
<circle cx="1129.5" cy="485.8" r="4.3"/>
<circle cx="1203.0" cy="484.3" r="4.3"/>
<circle cx="101.0" cy="565.7" r="4.3"/>
<circle cx="174.5" cy="558.2" r="4.3"/>
<circle cx="247.9" cy="544.6" r="4.3"/>
<circle cx="321.4" cy="537.0" r="4.3"/>
<circle cx="394.9" cy="537.0" r="4.3"/>
<circle cx="468.3" cy="537.0" r="4.3"/>
<circle cx="541.8" cy="531.5" r="4.3"/>
<circle cx="615.3" cy="528.3" r="4.3"/>
<circle cx="688.7" cy="503.4" r="4.3"/>
<circle cx="762.2" cy="492.1" r="4.3"/>
<circle cx="835.7" cy="486.1" r="4.3"/>
<circle cx="909.1" cy="482.9" r="4.3"/>
<circle cx="982.6" cy="478.3" r="4.3"/>
<circle cx="1056.1" cy="472.5" r="4.3"/>
<circle cx="1129.5" cy="452.3" r="4.3"/>
<circle cx="1203.0" cy="450.7" r="4.3"/>
<circle cx="101.0" cy="565.2" r="4.3"/>
<circle cx="174.5" cy="560.4" r="4.3"/>
<circle cx="247.9" cy="554.4" r="4.3"/>
<circle cx="321.4" cy="545.3" r="4.3"/>
<circle cx="394.9" cy="545.3" r="4.3"/>
<circle cx="468.3" cy="545.3" r="4.3"/>
<circle cx="541.8" cy="542.1" r="4.3"/>
<circle cx="615.3" cy="520.1" r="4.3"/>
<circle cx="688.7" cy="501.6" r="4.3"/>
<circle cx="762.2" cy="490.1" r="4.3"/>
<circle cx="835.7" cy="483.9" r="4.3"/>
<circle cx="909.1" cy="480.5" r="4.3"/>
<circle cx="982.6" cy="480.5" r="4.3"/>
<circle cx="1056.1" cy="473.0" r="4.3"/>
<circle cx="1129.5" cy="473.0" r="4.3"/>
<circle cx="1203.0" cy="472.9" r="4.3"/>
<circle cx="101.0" cy="564.8" r="4.3"/>
<circle cx="174.5" cy="558.4" r="4.3"/>
<circle cx="247.9" cy="553.2" r="4.3"/>
<circle cx="321.4" cy="544.2" r="4.3"/>
<circle cx="394.9" cy="544.2" r="4.3"/>
<circle cx="468.3" cy="544.2" r="4.3"/>
<circle cx="541.8" cy="542.9" r="4.3"/>
<circle cx="615.3" cy="542.9" r="4.3"/>
<circle cx="688.7" cy="517.0" r="4.3"/>
<circle cx="762.2" cy="506.5" r="4.3"/>
<circle cx="835.7" cy="502.4" r="4.3"/>
<circle cx="909.1" cy="501.6" r="4.3"/>
<circle cx="982.6" cy="494.8" r="4.3"/>
<circle cx="1056.1" cy="494.3" r="4.3"/>
<circle cx="1129.5" cy="483.4" r="4.3"/>
<circle cx="1203.0" cy="474.2" r="4.3"/>
<circle cx="101.0" cy="564.4" r="4.3"/>
<circle cx="174.5" cy="556.1" r="4.3"/>
<circle cx="247.9" cy="542.4" r="4.3"/>
<circle cx="321.4" cy="535.0" r="4.3"/>
<circle cx="394.9" cy="535.0" r="4.3"/>
<circle cx="468.3" cy="535.0" r="4.3"/>
<circle cx="541.8" cy="533.4" r="4.3"/>
<circle cx="615.3" cy="533.4" r="4.3"/>
<circle cx="688.7" cy="509.1" r="4.3"/>
<circle cx="762.2" cy="498.1" r="4.3"/>
<circle cx="835.7" cy="492.9" r="4.3"/>
<circle cx="909.1" cy="490.7" r="4.3"/>
<circle cx="982.6" cy="490.7" r="4.3"/>
<circle cx="1056.1" cy="490.7" r="4.3"/>
<circle cx="1129.5" cy="490.7" r="4.3"/>
<circle cx="1203.0" cy="484.3" r="4.3"/>
<circle cx="101.0" cy="564.0" r="4.3"/>
<circle cx="174.5" cy="557.8" r="4.3"/>
<circle cx="247.9" cy="551.6" r="4.3"/>
<circle cx="321.4" cy="542.9" r="4.3"/>
<circle cx="394.9" cy="542.9" r="4.3"/>
<circle cx="468.3" cy="542.9" r="4.3"/>
<circle cx="541.8" cy="542.9" r="4.3"/>
<circle cx="615.3" cy="542.7" r="4.3"/>
<circle cx="688.7" cy="517.0" r="4.3"/>
<circle cx="762.2" cy="506.5" r="4.3"/>
<circle cx="835.7" cy="502.4" r="4.3"/>
<circle cx="909.1" cy="501.6" r="4.3"/>
<circle cx="982.6" cy="501.5" r="4.3"/>
<circle cx="1056.1" cy="491.1" r="4.3"/>
<circle cx="1129.5" cy="476.2" r="4.3"/>
<circle cx="1203.0" cy="476.2" r="4.3"/>
<circle cx="101.0" cy="563.5" r="4.3"/>
<circle cx="174.5" cy="553.3" r="4.3"/>
<circle cx="247.9" cy="542.7" r="4.3"/>
<circle cx="321.4" cy="535.3" r="4.3"/>
<circle cx="394.9" cy="535.3" r="4.3"/>
<circle cx="468.3" cy="535.3" r="4.3"/>
<circle cx="541.8" cy="535.3" r="4.3"/>
<circle cx="615.3" cy="526.7" r="4.3"/>
<circle cx="688.7" cy="500.8" r="4.3"/>
<circle cx="762.2" cy="489.4" r="4.3"/>
<circle cx="835.7" cy="483.1" r="4.3"/>
<circle cx="909.1" cy="479.5" r="4.3"/>
<circle cx="982.6" cy="472.6" r="4.3"/>
<circle cx="1056.1" cy="463.4" r="4.3"/>
<circle cx="1129.5" cy="455.0" r="4.3"/>
<circle cx="1203.0" cy="438.4" r="4.3"/>
<circle cx="101.0" cy="563.1" r="4.3"/>
<circle cx="174.5" cy="550.6" r="4.3"/>
<circle cx="247.9" cy="537.8" r="4.3"/>
<circle cx="321.4" cy="531.0" r="4.3"/>
<circle cx="394.9" cy="531.0" r="4.3"/>
<circle cx="468.3" cy="531.0" r="4.3"/>
<circle cx="541.8" cy="531.0" r="4.3"/>
<circle cx="615.3" cy="531.0" r="4.3"/>
<circle cx="688.7" cy="517.0" r="4.3"/>
<circle cx="762.2" cy="506.5" r="4.3"/>
<circle cx="835.7" cy="502.4" r="4.3"/>
<circle cx="909.1" cy="501.6" r="4.3"/>
<circle cx="982.6" cy="501.5" r="4.3"/>
<circle cx="1056.1" cy="496.6" r="4.3"/>
<circle cx="1129.5" cy="492.6" r="4.3"/>
<circle cx="1203.0" cy="481.1" r="4.3"/>
<circle cx="101.0" cy="562.7" r="4.3"/>
<circle cx="174.5" cy="547.6" r="4.3"/>
<circle cx="247.9" cy="535.7" r="4.3"/>
<circle cx="321.4" cy="529.3" r="4.3"/>
<circle cx="394.9" cy="529.3" r="4.3"/>
<circle cx="468.3" cy="529.3" r="4.3"/>
<circle cx="541.8" cy="529.3" r="4.3"/>
<circle cx="615.3" cy="529.3" r="4.3"/>
<circle cx="688.7" cy="516.4" r="4.3"/>
<circle cx="762.2" cy="505.8" r="4.3"/>
<circle cx="835.7" cy="501.6" r="4.3"/>
<circle cx="909.1" cy="500.7" r="4.3"/>
<circle cx="982.6" cy="500.7" r="4.3"/>
<circle cx="1056.1" cy="496.6" r="4.3"/>
<circle cx="1129.5" cy="492.6" r="4.3"/>
<circle cx="1203.0" cy="484.3" r="4.3"/>
<circle cx="101.0" cy="562.2" r="4.3"/>
<circle cx="174.5" cy="551.9" r="4.3"/>
<circle cx="247.9" cy="536.6" r="4.3"/>
<circle cx="321.4" cy="530.1" r="4.3"/>
<circle cx="394.9" cy="530.1" r="4.3"/>
<circle cx="468.3" cy="530.1" r="4.3"/>
<circle cx="541.8" cy="526.3" r="4.3"/>
<circle cx="615.3" cy="526.3" r="4.3"/>
<circle cx="688.7" cy="510.1" r="4.3"/>
<circle cx="762.2" cy="499.2" r="4.3"/>
<circle cx="835.7" cy="494.2" r="4.3"/>
<circle cx="909.1" cy="492.2" r="4.3"/>
<circle cx="982.6" cy="492.2" r="4.3"/>
<circle cx="1056.1" cy="488.4" r="4.3"/>
<circle cx="1129.5" cy="476.9" r="4.3"/>
<circle cx="1203.0" cy="468.8" r="4.3"/>
<circle cx="101.0" cy="561.8" r="4.3"/>
<circle cx="174.5" cy="548.5" r="4.3"/>
<circle cx="247.9" cy="531.4" r="4.3"/>
<circle cx="321.4" cy="525.6" r="4.3"/>
<circle cx="394.9" cy="525.6" r="4.3"/>
<circle cx="468.3" cy="525.6" r="4.3"/>
<circle cx="541.8" cy="525.6" r="4.3"/>
<circle cx="615.3" cy="501.6" r="4.3"/>
<circle cx="688.7" cy="496.0" r="4.3"/>
<circle cx="762.2" cy="484.2" r="4.3"/>
<circle cx="835.7" cy="477.3" r="4.3"/>
<circle cx="909.1" cy="472.9" r="4.3"/>
<circle cx="982.6" cy="472.9" r="4.3"/>
<circle cx="1056.1" cy="463.4" r="4.3"/>
<circle cx="1129.5" cy="463.4" r="4.3"/>
<circle cx="1203.0" cy="438.6" r="4.3"/>
<circle cx="101.0" cy="561.4" r="4.3"/>
<circle cx="174.5" cy="548.6" r="4.3"/>
<circle cx="247.9" cy="526.2" r="4.3"/>
<circle cx="321.4" cy="521.2" r="4.3"/>
<circle cx="394.9" cy="521.2" r="4.3"/>
<circle cx="468.3" cy="521.2" r="4.3"/>
<circle cx="541.8" cy="513.9" r="4.3"/>
<circle cx="615.3" cy="496.0" r="4.3"/>
<circle cx="688.7" cy="488.5" r="4.3"/>
<circle cx="762.2" cy="476.4" r="4.3"/>
<circle cx="835.7" cy="468.3" r="4.3"/>
<circle cx="909.1" cy="462.7" r="4.3"/>
<circle cx="982.6" cy="457.1" r="4.3"/>
<circle cx="1056.1" cy="456.4" r="4.3"/>
<circle cx="1129.5" cy="456.4" r="4.3"/>
<circle cx="1203.0" cy="420.8" r="4.3"/>
<circle cx="101.0" cy="561.0" r="4.3"/>
<circle cx="174.5" cy="540.8" r="4.3"/>
<circle cx="247.9" cy="518.2" r="4.3"/>
<circle cx="321.4" cy="514.2" r="4.3"/>
<circle cx="394.9" cy="514.0" r="4.3"/>
<circle cx="468.3" cy="514.0" r="4.3"/>
<circle cx="541.8" cy="512.1" r="4.3"/>
<circle cx="615.3" cy="512.1" r="4.3"/>
<circle cx="688.7" cy="493.9" r="4.3"/>
<circle cx="762.2" cy="482.1" r="4.3"/>
<circle cx="835.7" cy="474.7" r="4.3"/>
<circle cx="909.1" cy="470.0" r="4.3"/>
<circle cx="982.6" cy="469.0" r="4.3"/>
<circle cx="1056.1" cy="458.0" r="4.3"/>
<circle cx="1129.5" cy="450.6" r="4.3"/>
<circle cx="1203.0" cy="420.8" r="4.3"/>
<circle cx="101.0" cy="560.5" r="4.3"/>
<circle cx="174.5" cy="540.1" r="4.3"/>
<circle cx="247.9" cy="515.4" r="4.3"/>
<circle cx="321.4" cy="511.9" r="4.3"/>
<circle cx="394.9" cy="511.4" r="4.3"/>
<circle cx="468.3" cy="511.4" r="4.3"/>
<circle cx="541.8" cy="505.7" r="4.3"/>
<circle cx="615.3" cy="505.7" r="4.3"/>
<circle cx="688.7" cy="497.7" r="4.3"/>
<circle cx="762.2" cy="486.0" r="4.3"/>
<circle cx="835.7" cy="479.3" r="4.3"/>
<circle cx="909.1" cy="475.1" r="4.3"/>
<circle cx="982.6" cy="470.0" r="4.3"/>
<circle cx="1056.1" cy="459.9" r="4.3"/>
<circle cx="1129.5" cy="446.6" r="4.3"/>
<circle cx="1203.0" cy="420.8" r="4.3"/>
<circle cx="101.0" cy="560.1" r="4.3"/>
<circle cx="174.5" cy="544.0" r="4.3"/>
<circle cx="247.9" cy="523.5" r="4.3"/>
<circle cx="321.4" cy="518.8" r="4.3"/>
<circle cx="394.9" cy="518.8" r="4.3"/>
<circle cx="468.3" cy="518.8" r="4.3"/>
<circle cx="541.8" cy="511.1" r="4.3"/>
<circle cx="615.3" cy="511.1" r="4.3"/>
<circle cx="688.7" cy="492.0" r="4.3"/>
<circle cx="762.2" cy="480.1" r="4.3"/>
<circle cx="835.7" cy="472.6" r="4.3"/>
<circle cx="909.1" cy="467.5" r="4.3"/>
<circle cx="982.6" cy="464.3" r="4.3"/>
<circle cx="1056.1" cy="458.1" r="4.3"/>
<circle cx="1129.5" cy="448.8" r="4.3"/>
<circle cx="1203.0" cy="420.8" r="4.3"/>
<circle cx="101.0" cy="559.7" r="4.3"/>
<circle cx="174.5" cy="537.8" r="4.3"/>
<circle cx="247.9" cy="513.8" r="4.3"/>
<circle cx="321.4" cy="510.5" r="4.3"/>
<circle cx="394.9" cy="509.7" r="4.3"/>
<circle cx="468.3" cy="509.7" r="4.3"/>
<circle cx="541.8" cy="509.7" r="4.3"/>
<circle cx="615.3" cy="509.7" r="4.3"/>
<circle cx="688.7" cy="507.7" r="4.3"/>
<circle cx="762.2" cy="496.7" r="4.3"/>
<circle cx="835.7" cy="491.3" r="4.3"/>
<circle cx="909.1" cy="488.9" r="4.3"/>
<circle cx="982.6" cy="487.6" r="4.3"/>
<circle cx="1056.1" cy="483.8" r="4.3"/>
<circle cx="1129.5" cy="483.8" r="4.3"/>
<circle cx="1203.0" cy="483.8" r="4.3"/>
</g>
<polyline points="101.0,556.8 174.5,545.7 247.9,533.1 321.4,521.6 394.9,509.2 468.3,496.7 541.8,483.7 615.3,471.2 688.7,458.6 762.2,446.1 835.7,433.5 909.1,421.0 982.6,408.8 1056.1,396.7 1129.5,384.5 1203.0,372.8" fill="none" stroke="#1E3CFF" stroke-width="3.6"/>
<polyline points="101.0,559.5 174.5,555.4 247.9,531.7 321.4,527.6 394.9,527.3 468.3,527.2 541.8,520.5 615.3,507.1 688.7,483.7 762.2,473.4 835.7,465.2 909.1,460.2 982.6,452.6 1056.1,437.6 1129.5,424.0 1203.0,415.3" fill="none" stroke="#111" stroke-width="1.4"/>
<circle cx="101.0" cy="559.5" r="4.6" fill="#000"/>
<circle cx="174.5" cy="555.4" r="4.6" fill="#000"/>
<circle cx="247.9" cy="531.7" r="4.6" fill="#000"/>
<circle cx="321.4" cy="527.6" r="4.6" fill="#000"/>
<circle cx="394.9" cy="527.3" r="4.6" fill="#000"/>
<circle cx="468.3" cy="527.2" r="4.6" fill="#000"/>
<circle cx="541.8" cy="520.5" r="4.6" fill="#000"/>
<circle cx="615.3" cy="507.1" r="4.6" fill="#000"/>
<circle cx="688.7" cy="483.7" r="4.6" fill="#000"/>
<circle cx="762.2" cy="473.4" r="4.6" fill="#000"/>
<circle cx="835.7" cy="465.2" r="4.6" fill="#000"/>
<circle cx="909.1" cy="460.2" r="4.6" fill="#000"/>
<circle cx="982.6" cy="452.6" r="4.6" fill="#000"/>
<circle cx="1056.1" cy="437.6" r="4.6" fill="#000"/>
<circle cx="1129.5" cy="424.0" r="4.6" fill="#000"/>
<circle cx="1203.0" cy="415.3" r="4.6" fill="#000"/>
</g>
<rect x="101" y="200" width="1102" height="427" fill="none" stroke="#222" stroke-width="3"/>
<line x1="92" y1="570.0" x2="101" y2="570.0" stroke="#222" stroke-width="2.5"/>
<text x="85" y="580.0" font-size="28" fill="#222" text-anchor="end" >0</text>
<line x1="92" y1="489.0" x2="101" y2="489.0" stroke="#222" stroke-width="2.5"/>
<text x="85" y="499.0" font-size="28" fill="#222" text-anchor="end" >1</text>
<line x1="92" y1="408.0" x2="101" y2="408.0" stroke="#222" stroke-width="2.5"/>
<text x="85" y="418.0" font-size="28" fill="#222" text-anchor="end" >2</text>
<line x1="92" y1="327.0" x2="101" y2="327.0" stroke="#222" stroke-width="2.5"/>
<text x="85" y="337.0" font-size="28" fill="#222" text-anchor="end" >3</text>
<line x1="92" y1="246.0" x2="101" y2="246.0" stroke="#222" stroke-width="2.5"/>
<text x="85" y="256.0" font-size="28" fill="#222" text-anchor="end" >4</text>
<text x="0" y="0" font-size="29.3" fill="#222" text-anchor="start" transform="translate(33,443.5) rotate(-90)">inches</text>
<line x1="101.0" y1="627" x2="101.0" y2="633" stroke="#222" stroke-width="2"/>
<text x="101.0" y="655" font-size="25.6" fill="#222" text-anchor="middle" textLength="64" lengthAdjust="spacingAndGlyphs" stroke="#222" stroke-width="0.5" >15NOV</text>
<line x1="247.9" y1="627" x2="247.9" y2="633" stroke="#222" stroke-width="2"/>
<text x="247.9" y="655" font-size="25.6" fill="#222" text-anchor="middle" textLength="64" lengthAdjust="spacingAndGlyphs" stroke="#222" stroke-width="0.5" >17NOV</text>
<line x1="394.9" y1="627" x2="394.9" y2="633" stroke="#222" stroke-width="2"/>
<text x="394.9" y="655" font-size="25.6" fill="#222" text-anchor="middle" textLength="64" lengthAdjust="spacingAndGlyphs" stroke="#222" stroke-width="0.5" >19NOV</text>
<line x1="541.8" y1="627" x2="541.8" y2="633" stroke="#222" stroke-width="2"/>
<text x="541.8" y="655" font-size="25.6" fill="#222" text-anchor="middle" textLength="64" lengthAdjust="spacingAndGlyphs" stroke="#222" stroke-width="0.5" >21NOV</text>
<line x1="688.7" y1="627" x2="688.7" y2="633" stroke="#222" stroke-width="2"/>
<text x="688.7" y="655" font-size="25.6" fill="#222" text-anchor="middle" textLength="64" lengthAdjust="spacingAndGlyphs" stroke="#222" stroke-width="0.5" >23NOV</text>
<line x1="835.7" y1="627" x2="835.7" y2="633" stroke="#222" stroke-width="2"/>
<text x="835.7" y="655" font-size="25.6" fill="#222" text-anchor="middle" textLength="64" lengthAdjust="spacingAndGlyphs" stroke="#222" stroke-width="0.5" >25NOV</text>
<line x1="982.6" y1="627" x2="982.6" y2="633" stroke="#222" stroke-width="2"/>
<text x="982.6" y="655" font-size="25.6" fill="#222" text-anchor="middle" textLength="64" lengthAdjust="spacingAndGlyphs" stroke="#222" stroke-width="0.5" >27NOV</text>
<line x1="1129.5" y1="627" x2="1129.5" y2="633" stroke="#222" stroke-width="2"/>
<text x="1129.5" y="655" font-size="25.6" fill="#222" text-anchor="middle" textLength="64" lengthAdjust="spacingAndGlyphs" stroke="#222" stroke-width="0.5" >29NOV</text>
<text x="102" y="676" font-size="25.6" fill="#222" text-anchor="middle" textLength="47" lengthAdjust="spacingAndGlyphs" stroke="#222" stroke-width="0.5" >2023</text>
<text transform="scale(1.12,1)" x="108.93" y="233" font-size="22.5" fill="#1c1c1c" stroke="#fff" stroke-width="0.6" word-spacing="5.6" textLength="557.77" lengthAdjust="spacing">National Weather Service Global Forecast System</text>
<line x1="135" y1="255.5" x2="213" y2="255.5" stroke="#aaa" stroke-width="2"/>
<circle cx="135" cy="255.5" r="4.5" fill="#999"/><circle cx="213" cy="255.5" r="4.5" fill="#999"/>
<text transform="scale(1.12,1)" x="209.11" y="264" font-size="22.5" fill="#1c1c1c" stroke="#fff" stroke-width="0.6" word-spacing="5.6" textLength="216.52" lengthAdjust="spacing">Ensemble Members</text>
<rect x="551" y="247" width="79" height="8" fill="#F3C676"/>
<rect x="551" y="256" width="79" height="8" fill="#78F000"/>
<line x1="551" y1="255.5" x2="630" y2="255.5" stroke="#111" stroke-width="2"/>
<circle cx="551" cy="255.5" r="5.5" fill="#000"/><circle cx="630" cy="255.5" r="5.5" fill="#000"/>
<text transform="scale(1.12,1)" x="580.62" y="264" font-size="22.5" fill="#1c1c1c" stroke="#fff" stroke-width="0.6" word-spacing="5.6" textLength="203.21" lengthAdjust="spacing">Ensemble Average</text>
<line x1="966" y1="255.7" x2="1046" y2="255.7" stroke="#1E3CFF" stroke-width="4.5" stroke-linecap="round"/>
<text transform="scale(1.12,1)" x="951.61" y="264" font-size="22.5" fill="#1c1c1c" stroke="#fff" stroke-width="0.6" word-spacing="5.6" textLength="81.34" lengthAdjust="spacing">Normal</text>
<rect x="123.5" y="284.5" width="568" height="56" fill="#fff" stroke="#777" stroke-width="2"/>
<text transform="scale(1.12,1)" x="133.84" y="309" font-size="22.5" fill="#1c1c1c" stroke="#fff" stroke-width="0.6" word-spacing="5.6" textLength="178.30" lengthAdjust="spacing">Percent of Crop:</text>
<text transform="scale(1.12,1)" x="117.23" y="332" font-size="22.5" fill="#1c1c1c" stroke="#fff" stroke-width="0.6" word-spacing="5.6" textLength="194.91" lengthAdjust="spacing">Receives at Least:</text>
<text transform="scale(1.3,1)" x="293.31" y="309" font-size="22.5" fill="#1c1c1c" stroke="#fff" stroke-width="0.6" word-spacing="5.6" textLength="23.31" lengthAdjust="spacing">90</text>
<text transform="scale(1.3,1)" x="378.54" y="309" font-size="22.5" fill="#1c1c1c" stroke="#fff" stroke-width="0.6" word-spacing="5.6" textLength="25.15" lengthAdjust="spacing">50</text>
<text transform="scale(1.3,1)" x="463.31" y="309" font-size="22.5" fill="#1c1c1c" stroke="#fff" stroke-width="0.6" word-spacing="5.6" textLength="26.31" lengthAdjust="spacing">10</text>
<text transform="scale(1.12,1)" x="328.57" y="332" font-size="22.5" fill="#1c1c1c" stroke="#fff" stroke-width="0.6" word-spacing="5.6" textLength="71.25" lengthAdjust="spacing">1.4 in.</text>
<text transform="scale(1.12,1)" x="428.57" y="332" font-size="22.5" fill="#1c1c1c" stroke="#fff" stroke-width="0.6" word-spacing="5.6" textLength="71.16" lengthAdjust="spacing">1.8 in.</text>
<text transform="scale(1.12,1)" x="531.43" y="332" font-size="22.5" fill="#1c1c1c" stroke="#fff" stroke-width="0.6" word-spacing="5.6" textLength="69.46" lengthAdjust="spacing">2.3 in.</text>
<line x1="101" y1="683.5" x2="1203" y2="683.5" stroke="#222" stroke-width="2.5"/>
<line x1="1203" y1="683" x2="1203" y2="908" stroke="#222" stroke-width="2.5"/>
<line x1="101" y1="683" x2="101" y2="909.5" stroke="#222" stroke-width="3"/>
<line x1="99.5" y1="908" x2="1204" y2="908" stroke="#222" stroke-width="3"/>
<rect x="99.5" y="848.6" width="27.5" height="60.9" fill="#78F000"/>
<rect x="148.5" y="885.1" width="52.0" height="24.4" fill="#78F000"/>
<rect x="221.9" y="774.1" width="52.0" height="135.4" fill="#78F000"/>
<rect x="295.4" y="885.1" width="52.0" height="24.4" fill="#78F000"/>
<rect x="368.9" y="906.2" width="52.0" height="3.3" fill="#78F000"/>
<rect x="442.3" y="907.5" width="52.0" height="2.0" fill="#78F000"/>
<rect x="515.8" y="870.1" width="52.0" height="39.4" fill="#78F000"/>
<rect x="589.3" y="832.6" width="52.0" height="76.9" fill="#78F000"/>
<rect x="662.7" y="775.9" width="52.0" height="133.6" fill="#78F000"/>
<rect x="736.2" y="850.0" width="52.0" height="59.5" fill="#78F000"/>
<rect x="809.7" y="861.4" width="52.0" height="48.1" fill="#78F000"/>
<rect x="883.1" y="880.1" width="52.0" height="29.4" fill="#78F000"/>
<rect x="956.6" y="865.0" width="52.0" height="44.5" fill="#78F000"/>
<rect x="1030.1" y="823.0" width="52.0" height="86.5" fill="#78F000"/>
<rect x="1103.5" y="831.2" width="52.0" height="78.3" fill="#78F000"/>
<rect x="1177.0" y="859.1" width="27.5" height="50.4" fill="#78F000"/>
<line x1="110.5" y1="908.5" x2="1197" y2="908.5" stroke="#000" stroke-opacity="0.27" stroke-width="2" stroke-dasharray="2 8.12"/>
<line x1="110.5" y1="862.8" x2="1197" y2="862.8" stroke="#000" stroke-opacity="0.27" stroke-width="2" stroke-dasharray="2 8.12"/>
<line x1="110.5" y1="817.1" x2="1197" y2="817.1" stroke="#000" stroke-opacity="0.27" stroke-width="2" stroke-dasharray="2 8.12"/>
<line x1="110.5" y1="771.4" x2="1197" y2="771.4" stroke="#000" stroke-opacity="0.27" stroke-width="2" stroke-dasharray="2 8.12"/>
<line x1="110.5" y1="725.7" x2="1197" y2="725.7" stroke="#000" stroke-opacity="0.27" stroke-width="2" stroke-dasharray="2 8.12"/>
<line x1="92" y1="908.0" x2="101" y2="908.0" stroke="#222" stroke-width="2.5"/>
<text x="85" y="918.0" font-size="28" fill="#222" text-anchor="end" >0</text>
<line x1="92" y1="862.3" x2="101" y2="862.3" stroke="#222" stroke-width="2.5"/>
<text x="85" y="872.3" font-size="28" fill="#222" text-anchor="end" textLength="36.5" lengthAdjust="spacingAndGlyphs" >0.1</text>
<line x1="92" y1="816.6" x2="101" y2="816.6" stroke="#222" stroke-width="2.5"/>
<text x="85" y="826.6" font-size="28" fill="#222" text-anchor="end" textLength="36.5" lengthAdjust="spacingAndGlyphs" >0.2</text>
<line x1="92" y1="770.9" x2="101" y2="770.9" stroke="#222" stroke-width="2.5"/>
<text x="85" y="780.9" font-size="28" fill="#222" text-anchor="end" textLength="36.5" lengthAdjust="spacingAndGlyphs" >0.3</text>
<line x1="92" y1="725.2" x2="101" y2="725.2" stroke="#222" stroke-width="2.5"/>
<text x="85" y="735.2" font-size="28" fill="#222" text-anchor="end" textLength="36.5" lengthAdjust="spacingAndGlyphs" >0.4</text>
<text x="0" y="0" font-size="29.3" fill="#222" text-anchor="start" transform="translate(33,837.5) rotate(-90)">inches</text>
<line x1="101.0" y1="908" x2="101.0" y2="915" stroke="#222" stroke-width="2"/>
<text x="101.0" y="935.5" font-size="25.6" fill="#222" text-anchor="middle" textLength="64" lengthAdjust="spacingAndGlyphs" stroke="#222" stroke-width="0.5" >15NOV</text>
<line x1="247.9" y1="908" x2="247.9" y2="915" stroke="#222" stroke-width="2"/>
<text x="247.9" y="935.5" font-size="25.6" fill="#222" text-anchor="middle" textLength="64" lengthAdjust="spacingAndGlyphs" stroke="#222" stroke-width="0.5" >17NOV</text>
<line x1="394.9" y1="908" x2="394.9" y2="915" stroke="#222" stroke-width="2"/>
<text x="394.9" y="935.5" font-size="25.6" fill="#222" text-anchor="middle" textLength="64" lengthAdjust="spacingAndGlyphs" stroke="#222" stroke-width="0.5" >19NOV</text>
<line x1="541.8" y1="908" x2="541.8" y2="915" stroke="#222" stroke-width="2"/>
<text x="541.8" y="935.5" font-size="25.6" fill="#222" text-anchor="middle" textLength="64" lengthAdjust="spacingAndGlyphs" stroke="#222" stroke-width="0.5" >21NOV</text>
<line x1="688.7" y1="908" x2="688.7" y2="915" stroke="#222" stroke-width="2"/>
<text x="688.7" y="935.5" font-size="25.6" fill="#222" text-anchor="middle" textLength="64" lengthAdjust="spacingAndGlyphs" stroke="#222" stroke-width="0.5" >23NOV</text>
<line x1="835.7" y1="908" x2="835.7" y2="915" stroke="#222" stroke-width="2"/>
<text x="835.7" y="935.5" font-size="25.6" fill="#222" text-anchor="middle" textLength="64" lengthAdjust="spacingAndGlyphs" stroke="#222" stroke-width="0.5" >25NOV</text>
<line x1="982.6" y1="908" x2="982.6" y2="915" stroke="#222" stroke-width="2"/>
<text x="982.6" y="935.5" font-size="25.6" fill="#222" text-anchor="middle" textLength="64" lengthAdjust="spacingAndGlyphs" stroke="#222" stroke-width="0.5" >27NOV</text>
<line x1="1129.5" y1="908" x2="1129.5" y2="915" stroke="#222" stroke-width="2"/>
<text x="1129.5" y="935.5" font-size="25.6" fill="#222" text-anchor="middle" textLength="64" lengthAdjust="spacingAndGlyphs" stroke="#222" stroke-width="0.5" >29NOV</text>
<text x="102" y="957.5" font-size="25.6" fill="#222" text-anchor="middle" textLength="47" lengthAdjust="spacingAndGlyphs" stroke="#222" stroke-width="0.5" >2023</text>
<text transform="scale(1.12,1)" x="108.75" y="713.5" font-size="24" fill="#1c1c1c" stroke="#fff" stroke-width="0.6" word-spacing="6.0" textLength="416.70" lengthAdjust="spacing">Ensemble Average Daily Precipitation</text>
<circle cx="941.8" cy="703" r="9" fill="none" stroke="#333" stroke-width="2.2"/>
<path d="M945.6,699.3 A5,5 0 1 0 945.6,706.7" fill="none" stroke="#333" stroke-width="2"/>
<text transform="scale(1.12,1)" x="857.23" y="712" font-size="24" fill="#1c1c1c" stroke="#fff" stroke-width="0.6" word-spacing="6.0" textLength="201.16" lengthAdjust="spacing">World Ag Weather</text>
</svg></body></html>
